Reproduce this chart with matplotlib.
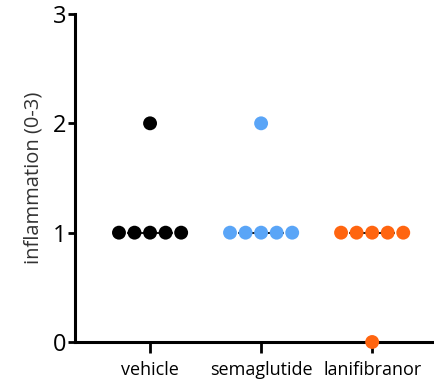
import numpy as np
import matplotlib
matplotlib.use("Agg")
import matplotlib.pyplot as plt

plt.rcParams['font.family'] = ['Open Sans', 'DejaVu Sans']

groups = ["vehicle", "semaglutide", "lanifibranor"]
scores = {
    "vehicle": [2, 1, 1, 1, 1, 1],
    "semaglutide": [2, 1, 1, 1, 1, 1],
    "lanifibranor": [1, 1, 1, 1, 1, 0],
}
colors = ["#000000", "#5aa5f7", "#ff6510"]
y_ticks = [0, 1, 2, 3]

fig = plt.figure(figsize=(4.34, 3.82), dpi=100)
ax = fig.add_axes([0.1728, 0.1047, 0.8272, 0.8587])

step = 0.14  # horizontal spacing between tied points
for i, (g, c) in enumerate(zip(groups, colors)):
    vals = np.array(scores[g], dtype=float)
    xs = np.zeros_like(vals)
    for v in np.unique(vals):
        idx = np.where(vals == v)[0]
        n = len(idx)
        xs[idx] = i + (np.arange(n) - (n - 1) / 2) * step
    med = np.median(vals)
    ax.plot([i - 0.2, i + 0.2], [med, med], color="black", lw=1.3, zorder=2)
    ax.scatter(xs, vals, s=100, color=c, edgecolors="none", zorder=3, clip_on=False)

ax.set_xlim(-0.676, 2.557)
ax.set_ylim(0, 3)
ax.set_xticks(range(len(groups)))
ax.set_xticklabels(groups, fontsize=13)
ax.set_yticks(y_ticks)
ax.set_yticklabels([str(t) for t in y_ticks], fontsize=17)
ax.set_ylabel("inflammation (0-3)", fontsize=14.5, color="#333333", labelpad=7)

for s in ["top", "right"]:
    ax.spines[s].set_visible(False)
for s in ["left", "bottom"]:
    ax.spines[s].set_linewidth(2.2)
ax.tick_params(axis="y", length=5, width=2, pad=1)
ax.tick_params(axis="x", length=8, width=2, pad=6)

fig.savefig("out.png", dpi=100)
